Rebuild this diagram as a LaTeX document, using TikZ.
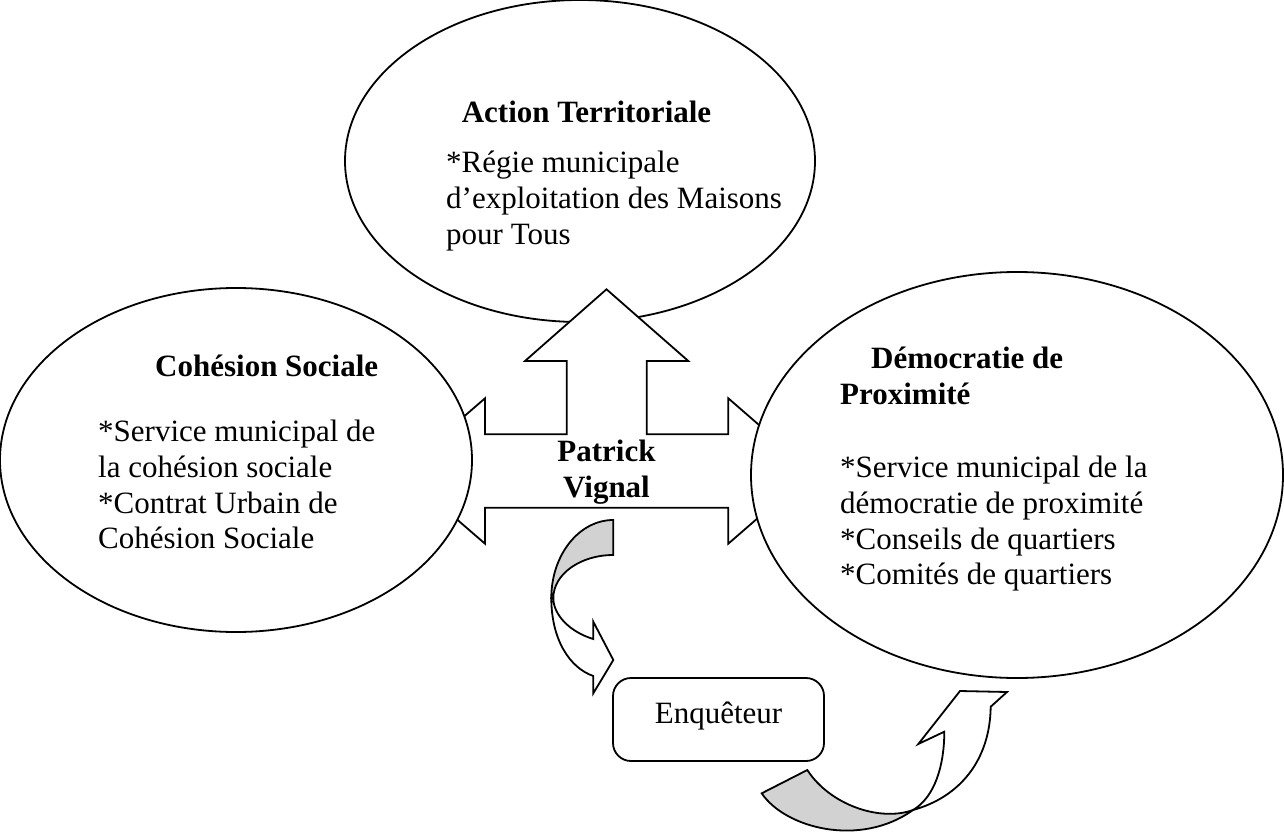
\documentclass[tikz,border=0pt]{standalone}
\usepackage{fontspec}
\setmainfont{Liberation Serif}
\usetikzlibrary{shapes.geometric}

\tikzset{
  bulle/.style={ellipse, draw, fill=white, line width=1.8pt, inner sep=0pt},
  titre/.style={font=\fontsize{31}{35.7}\selectfont\bfseries, inner sep=0pt},
  corps/.style={font=\fontsize{31}{35.7}\selectfont, align=left, anchor=north west, inner sep=0pt},
  trait/.style={draw, line width=1.8pt, line join=miter, fill=white},
  dos/.style={trait, fill=gray!35},
}

\begin{document}
\begin{tikzpicture}[x=1pt, y=-1pt]
	\useasboundingbox (0,0) rectangle (1284,832);
	
	%%%%% bulles et fleche centrale %%%%%
	\node[bulle, minimum width=470pt, minimum height=322pt] (territ) at (580,161) {};
	
	\draw[trait] (485,543.7) -- (485,507.7) -- (728.3,507.7) -- (728.3,543.7) -- (812,471) -- (728.3,398.3) -- (728.3,434.3) -- (646.7,434.3) -- (646.7,361) -- (688.3,361) -- (606.5,289.3) -- (525,361) -- (566.7,361) -- (566.7,434.3) -- (485,434.3) -- (485,398.3) -- (401,471) -- cycle;
	
	\node[bulle, minimum width=472pt, minimum height=344pt] (cohesion) at (236,460) {};
	\node[bulle, minimum width=532pt, minimum height=406pt] (proxi) at (1017,475) {};
	
	%%%%% textes %%%%%
	\node[titre, anchor=base] (titreT) at (586.5,122) {Action Territoriale};
	\node[corps] (corpsT) at (446,151) {*Régie municipale\\d’exploitation des Maisons\\pour Tous};
	
	\node[titre, anchor=base west] (titreC) at (155,376) {Cohésion Sociale};
	\node[corps] (corpsC) at (98,420) {*Service municipal de\\la cohésion sociale\\*Contrat Urbain de\\Cohésion Sociale};
	
	\node[titre, align=left, anchor=north west] (titreD) at (840,347) {\hspace*{31pt}Démocratie de\\Proximité};
	\node[corps] (corpsD) at (840,456) {*Service municipal de la\\démocratie de proximité\\*Conseils de quartiers\\*Comités de quartiers};
	
	\node[titre, align=center] (patrick) at (606.5,472.5) {Patrick\\Vignal};
	
	\node[draw, fill=white, line width=1.8pt, rounded corners=18pt, minimum width=211pt, minimum height=83pt, text depth=14pt, font=\fontsize{31}{35.7}\selectfont] (enq) at (718.5,719.5) {Enquêteur};
	
	%%%%% fleches courbes %%%%%
	\draw[dos] (613.3,520) .. controls (579.1,520) and (551.3,554.9) .. (551.3,598) -- (553.3,598) .. controls (553.3,574.3) and (580.2,555) .. (613.3,555) -- cycle;
	\draw[trait] (553.3,598) .. controls (553.3,615) and (570,632) .. (593.3,639) -- (593.3,621.7) -- (613.3,660) -- (593.3,693.3) -- (593.3,676) .. controls (570,668) and (551.3,640) .. (551.3,598) -- cycle;
	
	\draw[dos] (761.7,793.3) .. controls (785,828) and (860,848) .. (913,810) .. controls (880,822) and (830,805) .. (807.3,770) -- cycle;
	\draw[trait] (913,810) .. controls (935,797) and (944.3,765) .. (944.3,731.7) -- (918.3,744) -- (960,691) -- (1007,692) -- (990.7,706.7) .. controls (990,760) and (960,797) .. (913,810) -- cycle;
\end{tikzpicture}
\end{document}
